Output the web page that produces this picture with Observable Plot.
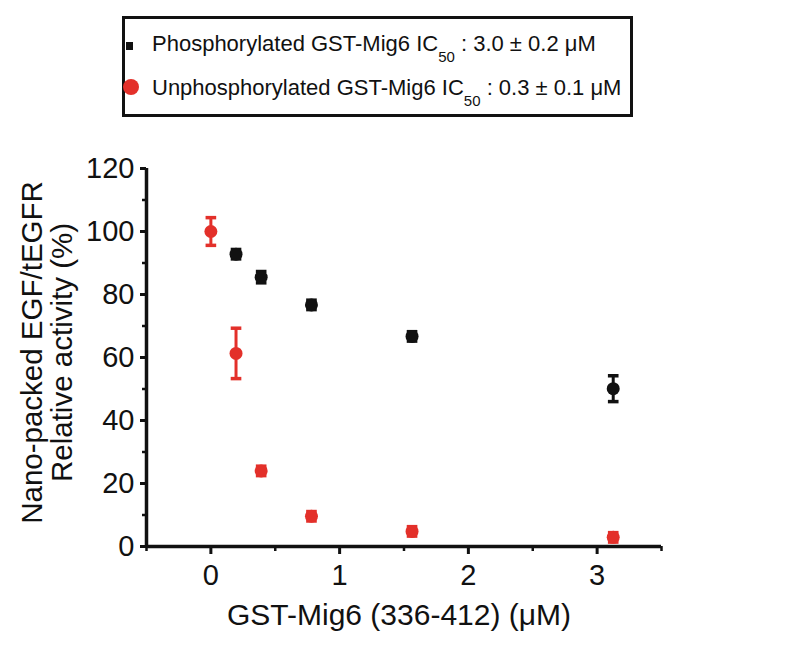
<!DOCTYPE html>
<html>
<head>
<meta charset="utf-8">
<script src="https://cdn.jsdelivr.net/npm/d3@7"></script>
<script src="https://cdn.jsdelivr.net/npm/@observablehq/plot@0.6"></script>
<style>
  html, body { margin: 0; padding: 0; background: #fff; }
  #wrap { width: 800px; height: 657px; position: relative; overflow: hidden; font-family: "Liberation Sans", Arial, sans-serif; }
  #legend { display: block; }
  #chart svg { display: block; }
</style>
</head>
<body>
<div id="wrap">
  <svg id="legend" width="800" height="130"></svg>
  <div id="chart"></div>
</div>
<script>
// ---- data ----
const seriesNames = ["Phosphorylated GST-Mig6", "Unphosphorylated GST-Mig6"];
const ic50Labels = ["3.0 ± 0.2", "0.3 ± 0.1"];
const seriesColors = ["#111111", "#e3302a"];

const phosConc = [0.1953, 0.3906, 0.78125, 1.5625, 3.125];
const phosActivity = [92.8, 85.5, 76.7, 66.7, 50.1];
const phosError = [1.5, 1.8, 1.5, 1.5, 4.1];

const unphosConc = [0, 0.1953, 0.3906, 0.78125, 1.5625, 3.125];
const unphosActivity = [100, 61.3, 24.0, 9.6, 4.8, 2.9];
const unphosError = [4.4, 8.0, 1.5, 1.5, 1.5, 1.5];

const xTicks = [0, 1, 2, 3];
const xMinorTicks = [-0.5, 0.5, 1.5, 2.5, 3.5];
const yTicks = [0, 20, 40, 60, 80, 100, 120];
const yMinorTicks = [10, 30, 50, 70, 90, 110];

const xLabel = "GST-Mig6 (336-412) (μM)";
const yLabel = "Nano-packed EGF/tEGFR\nRelative activity (%)";

// ---- build table ----
const rows = [
  ...phosConc.map((c, i) => ({series: seriesNames[0], conc: c, act: phosActivity[i], err: phosError[i]})),
  ...unphosConc.map((c, i) => ({series: seriesNames[1], conc: c, act: unphosActivity[i], err: unphosError[i]}))
];
const caps = rows.flatMap(d => [{...d, v: d.act - d.err}, {...d, v: d.act + d.err}]);

const capSymbol = {
  draw(context, size) {
    const w = Math.sqrt(size) / 2;
    context.moveTo(-w, 0);
    context.lineTo(w, 0);
  }
};

const FONT = "'Liberation Sans', Arial, sans-serif";

const plot = Plot.plot({
  width: 800,
  height: 527,
  marginLeft: 146,
  marginRight: 139,
  marginTop: 38,
  marginBottom: 111,
  style: {fontFamily: FONT, fontSize: "29px", color: "#111", background: "#fff"},
  x: {domain: [-0.5, 3.5], axis: null},
  y: {domain: [0, 120], axis: null},
  color: {domain: seriesNames, range: seriesColors},
  marks: [
    // minor ticks
    Plot.axisX(xMinorTicks, {tickSize: 5, tickFormat: () => "", strokeWidth: 2.5, label: null}),
    Plot.axisY(yMinorTicks, {tickSize: 4, tickFormat: () => "", strokeWidth: 2.5, label: null}),
    // major ticks
    Plot.axisX(xTicks, {tickSize: 8, tickPadding: 10, tickFormat: d3.format("d"), fontSize: 29, strokeWidth: 3, label: null}),
    Plot.axisY(yTicks, {tickSize: 6, tickPadding: 6, tickFormat: d3.format("d"), fontSize: 29, strokeWidth: 3, label: null}),
    // axis lines
    Plot.ruleX([-0.5], {stroke: "#111", strokeWidth: 3.5}),
    Plot.ruleY([0], {stroke: "#111", strokeWidth: 3.5}),
    // error bars
    Plot.ruleX(rows, {x: "conc", y1: d => d.act - d.err, y2: d => d.act + d.err, stroke: "series", strokeWidth: 3}),
    Plot.dot(caps, {x: "conc", y: "v", stroke: "series", symbol: capSymbol, r: 6, strokeWidth: 3.5}),
    // points
    Plot.dot(rows, {x: "conc", y: "act", fill: "series", r: 6.5}),
    // axis titles
    Plot.text([xLabel], {frameAnchor: "bottom", lineAnchor: "top", dy: 57, dx: -5, fontSize: 30, fill: "#111"}),
    Plot.text([yLabel], {frameAnchor: "left", textAnchor: "middle", rotate: -90, dx: -99, dy: -5, fontSize: 29.5, lineHeight: 1.03, fill: "#111"})
  ]
});
document.getElementById("chart").appendChild(plot);

// ---- legend ----
const lg = d3.select("#legend");
lg.append("rect").attr("x", 123.5).attr("y", 17.5).attr("width", 508).attr("height", 98)
  .attr("fill", "#fff").attr("stroke", "#111").attr("stroke-width", 3);
const baselines = [51, 95];
seriesNames.forEach((name, i) => {
  if (i === 0) {
    lg.append("rect").attr("x", 126).attr("y", baselines[i] - 9).attr("width", 7).attr("height", 8).attr("fill", seriesColors[i]);
  } else {
    lg.append("circle").attr("cx", 131).attr("cy", baselines[i] - 8).attr("r", 8).attr("fill", seriesColors[i]);
  }
  const t = lg.append("text").attr("x", 152).attr("y", baselines[i])
    .attr("font-family", FONT).attr("font-size", 22).attr("fill", "#111");
  t.append("tspan").text(name + " IC");
  t.append("tspan").attr("font-size", 15).attr("dy", 11).text("50");
  t.append("tspan").attr("dy", -11).text(" : " + ic50Labels[i] + " μM");
});
</script>
</body>
</html>
